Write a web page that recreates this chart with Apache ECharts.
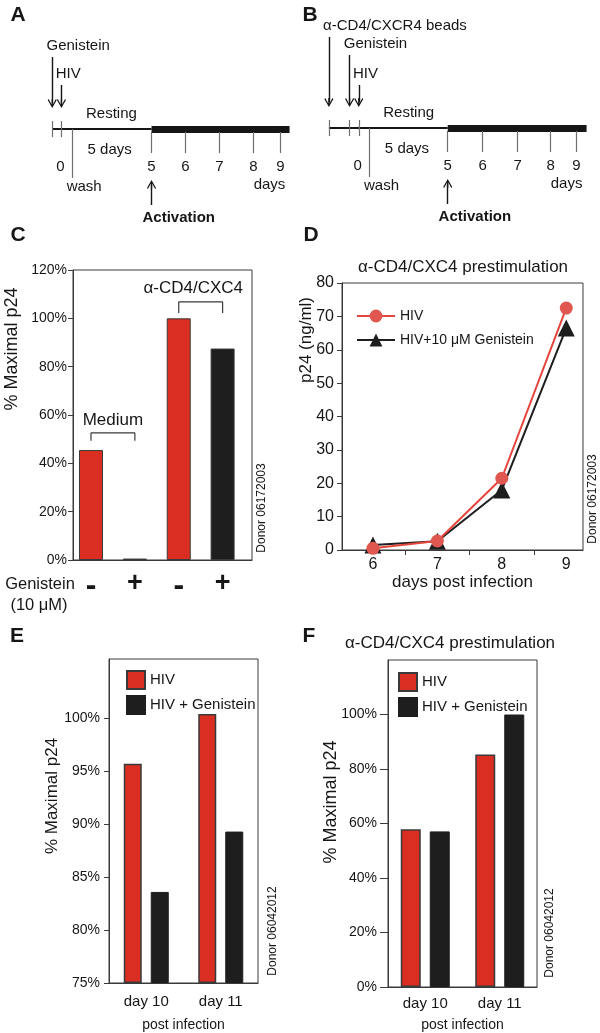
<!DOCTYPE html>
<html>
<head>
<meta charset="utf-8">
<script src="https://cdn.jsdelivr.net/npm/echarts@6/dist/echarts.min.js"></script>
<style>
  html, body { margin: 0; padding: 0; background: #fff; }
  #chart { width: 600px; height: 1033px; }
</style>
</head>
<body>
<div id="chart"></div>
<script>
(function () {
  "use strict";

  // ---- schematic A (positions in schematic day units, resting period compressed)
  var aEvents = ["Genistein", "HIV"];
  var aEventPos = [-0.24, 0.03];
  var aArrowTop = [72, 44];
  var aDayLabels = ["0", "5", "6", "7", "8", "9"];
  var aDayPos = [0, 2.68, 3.68, 4.68, 5.68, 6.47];
  var aWashPos = 0.35;
  var aEndPos = 6.74;

  // ---- schematic B
  var bEvents = ["\u03b1-CD4/CXCR4 beads", "Genistein", "HIV"];
  var bEventPos = [-0.85, -0.24, 0.03];
  var bArrowTop = [91, 73, 43];
  var bDayLabels = ["0", "5", "6", "7", "8", "9"];
  var bDayPos = [0, 2.65, 3.68, 4.71, 5.68, 6.44];
  var bWashPos = 0.35;
  var bEndPos = 6.74;

  // ---- panel C
  var cTreatment = ["-", "+", "-", "+"];
  var cValues = [45.5, 0.6, 100, 87.5];
  var cBrackets = [["Medium", 0, 1, 49.3, 52.6], ["\u03b1-CD4/CXC4", 2, 3, 102.2, 106.8]];

  // ---- panel D
  var dDays = [6, 7, 8, 9];
  var dHiv = [0.5, 2.7, 21.5, 72.5];
  var dGen = [1.5, 2.6, 18, 66.5];

  // ---- panels E and F
  var efCats = ["day 10", "day 11"];
  var eHiv = [95.7, 100.4];
  var eGen = [83.6, 89.3];
  var fHiv = [57.9, 85.3];
  var fGen = [57.1, 100];

  var FONT = "'Liberation Sans', Arial, Helvetica, sans-serif";
  var INK = "#161616";
  var RED = "#d92e21";
  var BLACK = "#1e1e1e";
  var EDGE = "#3a3a3a";
  var LINE_RED = "#e6453c";
  var DOT_RED = "#e05750";
  var ARROW = "path://M5,0 L10,9 L9,10 L5.7,3.8 L5.7,10 L4.3,10 L4.3,3.8 L1,10 L0,9 Z";

  var legendText = {
    "D-HIV": "HIV", "D-GEN": "HIV+10 \u03bcM Genistein",
    "E-HIV": "HIV", "E-GEN": "HIV + Genistein",
    "F-HIV": "HIV", "F-GEN": "HIV + Genistein"
  };

  function txt(text, x, y, align, bold) {
    return { value: [x, y], label: { formatter: text, align: align || "center", fontWeight: bold ? "bold" : "normal" } };
  }

  function textSeries(idx, items, size) {
    return {
      type: "scatter", xAxisIndex: idx, yAxisIndex: idx, silent: true, symbolSize: 1,
      itemStyle: { color: "transparent", opacity: 1 }, data: items,
      label: { show: true, position: "inside", verticalAlign: "middle", color: INK, opacity: 1, fontSize: size || 15, fontFamily: FONT }
    };
  }

  function timelineSeries(idx, events, eventPos, arrowTop, dayLabels, dayPos, washPos, endPos) {
    var act = dayPos[1];
    var start = eventPos[0];
    var base = { type: "lines", coordinateSystem: "cartesian2d", xAxisIndex: idx, yAxisIndex: idx, silent: true };
    var ticks = eventPos.map(function (p) { return { coords: [[p, 8], [p, -8]] }; });
    ticks.push({ coords: [[washPos, 0], [washPos, -49]] });
    dayPos.slice(1).forEach(function (p) { ticks.push({ coords: [[p, -3], [p, -24]] }); });
    var arrows = eventPos.map(function (p, i) { return { coords: [[p, arrowTop[i]], [p, 25.5]] }; });
    arrows.push({ coords: [[act, -76], [act, -55.5]] });
    var labels = events.map(function (t, i) { return txt(t, eventPos[i] - 0.17, arrowTop[i] + 11, "left"); });
    labels.push(txt("Resting", 1.5, 15));
    labels.push(txt("5 days", 1.45, -21));
    dayLabels.forEach(function (t, i) { labels.push(txt(t, dayPos[i], -38)); });
    labels.push(txt("wash", washPos + 0.35, -58));
    labels.push(txt("days", 6.15, -56));
    labels.push(txt("Activation", act + 0.8, -89, "center", true));
    return [
      Object.assign({}, base, { data: [{ coords: [[start, 0], [act, 0]] }], lineStyle: { color: INK, width: 2, opacity: 1 } }),
      Object.assign({}, base, { data: [{ coords: [[act, 0], [endPos, 0]] }], lineStyle: { color: INK, width: 7, opacity: 1, cap: "butt" } }),
      Object.assign({}, base, { data: ticks, lineStyle: { color: "#707070", width: 1.2, opacity: 1 } }),
      Object.assign({}, base, { data: arrows, symbol: ["none", ARROW], symbolSize: 9, lineStyle: { color: INK, width: 1.4, opacity: 1 } }),
      textSeries(idx, labels, 15)
    ];
  }

  function hiddenAxis(grid, min, max) {
    return { gridIndex: grid, type: "value", min: min, max: max, show: false, splitLine: { show: false } };
  }

  function axisLine() { return { show: true, onZero: false, lineStyle: { color: EDGE, width: 1 } }; }

  var chart = echarts.init(document.getElementById("chart"));

  var series = [];
  series = series.concat(timelineSeries(0, aEvents, aEventPos, aArrowTop, aDayLabels, aDayPos, aWashPos, aEndPos));
  series = series.concat(timelineSeries(1, bEvents, bEventPos, bArrowTop, bDayLabels, bDayPos, bWashPos, bEndPos));

  // panel C bars
  series.push({
    type: "bar", xAxisIndex: 2, yAxisIndex: 2, barWidth: 24, silent: true,
    data: cValues.map(function (v, i) {
      return { value: [i, v], itemStyle: { color: cTreatment[i] === "-" ? RED : BLACK } };
    }),
    itemStyle: { borderColor: EDGE, borderWidth: 1 }
  });
  // bracket annotations over pairs of bars
  cBrackets.forEach(function (b) {
    series.push({
      type: "line", xAxisIndex: 2, yAxisIndex: 2, silent: true, symbol: "none",
      lineStyle: { color: EDGE, width: 1.2 },
      data: [[b[1], b[3]], [b[1], b[4]], [b[2], b[4]], [b[2], b[3]]]
    });
  });
  series.push(textSeries(2, [txt(cBrackets[0][0], 0.5, 57.9), txt(cBrackets[1][0], 2.33, 112.5)], 17));

  // panel D lines
  series.push({
    type: "line", name: "D-GEN", xAxisIndex: 3, yAxisIndex: 3, silent: true,
    data: dDays.map(function (d, i) { return [d, dGen[i]]; }),
    symbol: "triangle", symbolSize: 17,
    lineStyle: { color: BLACK, width: 2 }, itemStyle: { color: BLACK }
  });
  series.push({
    type: "line", name: "D-HIV", xAxisIndex: 3, yAxisIndex: 3, silent: true,
    data: dDays.map(function (d, i) { return [d, dHiv[i]]; }),
    symbol: "circle", symbolSize: 13,
    lineStyle: { color: LINE_RED, width: 2 }, itemStyle: { color: DOT_RED }
  });

  // panels E and F bars
  function barPair(idx, prefix, hiv, gen, width, gap) {
    return [
      { type: "bar", name: prefix + "-HIV", xAxisIndex: idx, yAxisIndex: idx, data: hiv, barWidth: width, barGap: gap,
        silent: true, itemStyle: { color: RED, borderColor: EDGE, borderWidth: 1.5 } },
      { type: "bar", name: prefix + "-GEN", xAxisIndex: idx, yAxisIndex: idx, data: gen, barWidth: width, barGap: gap,
        silent: true, itemStyle: { color: BLACK, borderColor: BLACK, borderWidth: 1 } }
    ];
  }
  series = series.concat(barPair(4, "E", eHiv, eGen, 18, "50%"));
  series = series.concat(barPair(5, "F", fHiv, fGen, 20, "45%"));

  var boxed = { show: true, borderColor: EDGE, borderWidth: 1, backgroundColor: "transparent" };
  var labelStyle = { color: INK, fontFamily: FONT };

  var option = {
    animation: false,
    backgroundColor: "#fff",
    textStyle: { fontFamily: FONT, color: INK },
    grid: [
      { left: 40, top: 0, width: 255, height: 230 },
      { left: 317, top: 0, width: 275, height: 230 },
      Object.assign({ left: 73, top: 270, width: 179, height: 290 }, boxed),
      Object.assign({ left: 342, top: 283, width: 241, height: 267 }, boxed),
      Object.assign({ left: 109, top: 659, width: 149, height: 324 }, boxed),
      Object.assign({ left: 388, top: 660, width: 149, height: 328 }, boxed)
    ],
    xAxis: [
      hiddenAxis(0, -0.6, 6.9),
      hiddenAxis(1, -1.2, 6.9),
      { gridIndex: 2, type: "value", min: -0.41, max: 3.67, splitLine: { show: false },
        axisLine: axisLine(), axisTick: { show: false },
        axisLabel: Object.assign({ customValues: [0, 1, 2, 3], margin: 10,
          formatter: function (v) { var s = cTreatment[Math.round(v)]; return s === "-" ? "{minus|-}" : "{plus|+}"; },
          rich: {
            minus: { fontSize: 32, fontWeight: "bold", color: INK, fontFamily: FONT },
            plus: { fontSize: 27, fontWeight: "bold", color: INK, fontFamily: FONT }
          } }, labelStyle) },
      { gridIndex: 3, type: "value", min: 5.52, max: 9.26, splitLine: { show: false },
        axisLine: axisLine(),
        axisTick: { show: true, customValues: [6.5, 7.5, 8.5], length: 5, lineStyle: { color: EDGE } },
        axisLabel: Object.assign({ customValues: dDays, margin: 7, fontSize: 16 }, labelStyle),
        name: "days post infection", nameLocation: "middle", nameGap: 24,
        nameTextStyle: { fontSize: 17, color: INK, fontFamily: FONT } },
      { gridIndex: 4, type: "category", data: efCats, axisLine: axisLine(), axisTick: { show: false },
        axisLabel: Object.assign({ margin: 11, fontSize: 15 }, labelStyle),
        name: "post infection", nameLocation: "middle", nameGap: 35,
        nameTextStyle: { fontSize: 14, color: INK, fontFamily: FONT } },
      { gridIndex: 5, type: "category", data: efCats, axisLine: axisLine(), axisTick: { show: false },
        axisLabel: Object.assign({ margin: 9, fontSize: 15 }, labelStyle),
        name: "post infection", nameLocation: "middle", nameGap: 31,
        nameTextStyle: { fontSize: 14, color: INK, fontFamily: FONT } }
    ],
    yAxis: [
      hiddenAxis(0, -101, 129),
      hiddenAxis(1, -102, 128),
      { gridIndex: 2, type: "value", min: 0, max: 120, interval: 20, splitLine: { show: false },
        axisLine: axisLine(), axisTick: { show: true, length: 5, lineStyle: { color: EDGE } },
        axisLabel: Object.assign({ formatter: "{value}%", margin: 6, fontSize: 14 }, labelStyle) },
      { gridIndex: 3, type: "value", min: 0, max: 80, interval: 10, splitLine: { show: false },
        axisLine: axisLine(), axisTick: { show: true, length: 5, lineStyle: { color: EDGE } },
        axisLabel: Object.assign({ margin: 8, fontSize: 16 }, labelStyle) },
      { gridIndex: 4, type: "value", min: 75, max: 105.6, interval: 5, startValue: 75, splitLine: { show: false },
        axisLine: axisLine(),
        axisTick: { show: true, length: 5, customValues: [75, 80, 85, 90, 95, 100], lineStyle: { color: EDGE } },
        axisLabel: Object.assign({ customValues: [75, 80, 85, 90, 95, 100], formatter: "{value}%", margin: 9, fontSize: 14 }, labelStyle) },
      { gridIndex: 5, type: "value", min: 0, max: 120, interval: 20, splitLine: { show: false },
        axisLine: axisLine(),
        axisTick: { show: true, length: 8, customValues: [0, 20, 40, 60, 80, 100], lineStyle: { color: EDGE } },
        axisLabel: Object.assign({ customValues: [0, 20, 40, 60, 80, 100], formatter: "{value}%", margin: 11, fontSize: 14 }, labelStyle) }
    ],
    legend: [
      { data: ["D-HIV", "D-GEN"], orient: "vertical", left: 351, top: 304, itemWidth: 38, itemHeight: 16, itemGap: 10,
        selectedMode: false, formatter: function (n) { return legendText[n]; },
        textStyle: { fontSize: 14, color: INK, fontFamily: FONT } },
      { data: ["E-HIV", "E-GEN"], orient: "vertical", left: 121, top: 665, itemWidth: 18, itemHeight: 18, itemGap: 5,
        selectedMode: false, icon: "rect", formatter: function (n) { return legendText[n]; },
        textStyle: { fontSize: 15, color: INK, fontFamily: FONT } },
      { data: ["F-HIV", "F-GEN"], orient: "vertical", left: 393, top: 667, itemWidth: 18, itemHeight: 18, itemGap: 5,
        selectedMode: false, icon: "rect", formatter: function (n) { return legendText[n]; },
        textStyle: { fontSize: 15, color: INK, fontFamily: FONT } }
    ],
    graphic: [
      { type: "text", x: 18, y: 15, style: { text: "A", font: "bold 21px " + FONT, fill: INK, align: "center", verticalAlign: "middle" } },
      { type: "text", x: 310, y: 15, style: { text: "B", font: "bold 21px " + FONT, fill: INK, align: "center", verticalAlign: "middle" } },
      { type: "text", x: 18, y: 235, style: { text: "C", font: "bold 21px " + FONT, fill: INK, align: "center", verticalAlign: "middle" } },
      { type: "text", x: 311, y: 235, style: { text: "D", font: "bold 21px " + FONT, fill: INK, align: "center", verticalAlign: "middle" } },
      { type: "text", x: 17, y: 636, style: { text: "E", font: "bold 21px " + FONT, fill: INK, align: "center", verticalAlign: "middle" } },
      { type: "text", x: 309, y: 636, style: { text: "F", font: "bold 21px " + FONT, fill: INK, align: "center", verticalAlign: "middle" } },
      { type: "text", x: 463, y: 267, style: { text: "\u03b1-CD4/CXC4 prestimulation", font: "17px " + FONT, fill: INK, align: "center", verticalAlign: "middle" } },
      { type: "text", x: 450, y: 643, style: { text: "\u03b1-CD4/CXC4 prestimulation", font: "17px " + FONT, fill: INK, align: "center", verticalAlign: "middle" } },
      { type: "text", x: 12, y: 349, rotation: Math.PI / 2, style: { text: "% Maximal p24", font: "18px " + FONT, fill: INK, align: "center", verticalAlign: "middle" } },
      { type: "text", x: 306, y: 340, rotation: Math.PI / 2, style: { text: "p24 (ng/ml)", font: "17px " + FONT, fill: INK, align: "center", verticalAlign: "middle" } },
      { type: "text", x: 52, y: 796, rotation: Math.PI / 2, style: { text: "% Maximal p24", font: "17px " + FONT, fill: INK, align: "center", verticalAlign: "middle" } },
      { type: "text", x: 331, y: 802, rotation: Math.PI / 2, style: { text: "% Maximal p24", font: "18px " + FONT, fill: INK, align: "center", verticalAlign: "middle" } },
      { type: "text", x: 262, y: 508, rotation: Math.PI / 2, style: { text: "Donor 06172003", font: "12px " + FONT, fill: INK, align: "center", verticalAlign: "middle" } },
      { type: "text", x: 593, y: 499, rotation: Math.PI / 2, style: { text: "Donor 06172003", font: "12px " + FONT, fill: INK, align: "center", verticalAlign: "middle" } },
      { type: "text", x: 273, y: 931, rotation: Math.PI / 2, style: { text: "Donor 06042012", font: "12px " + FONT, fill: INK, align: "center", verticalAlign: "middle" } },
      { type: "text", x: 550, y: 933, rotation: Math.PI / 2, style: { text: "Donor 06042012", font: "12px " + FONT, fill: INK, align: "center", verticalAlign: "middle" } },
      { type: "text", x: 40, y: 584, style: { text: "Genistein", font: "16.5px " + FONT, fill: INK, align: "center", verticalAlign: "middle" } },
      { type: "text", x: 39, y: 605, style: { text: "(10 \u03bcM)", font: "16.5px " + FONT, fill: INK, align: "center", verticalAlign: "middle" } }
    ],
    series: series
  };

  chart.setOption(option);
})();
</script>
</body>
</html>
